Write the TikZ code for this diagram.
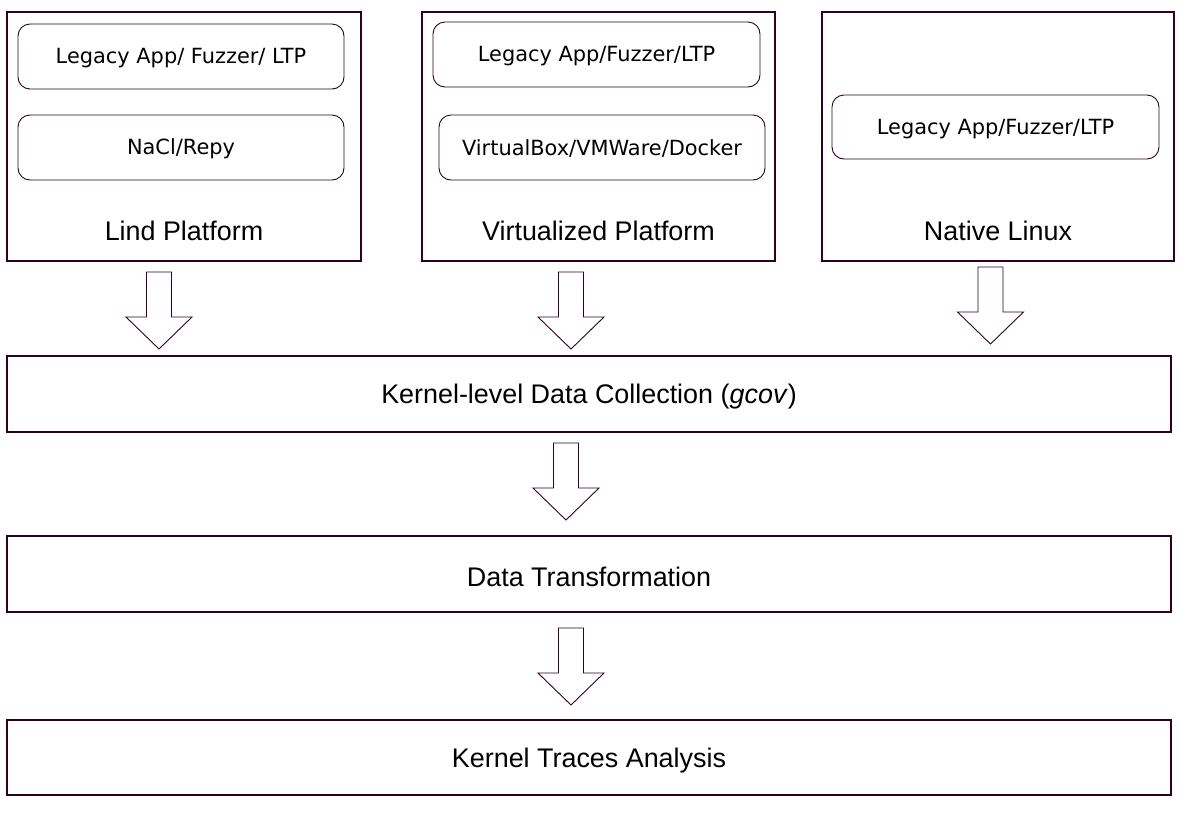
\documentclass[tikz,border=0pt]{standalone}
\usepackage{fontspec}
\setmainfont{Liberation Sans}
\newfontfamily\innerfont{DejaVu Sans}
\definecolor{edge}{HTML}{300020}
\begin{document}
\begin{tikzpicture}[x=1pt,y=-1pt,
  outerbox/.style={draw=edge,line width=1.1pt,rectangle,inner sep=0pt},
  innerbox/.style={draw=edge,line width=0.9pt,rounded corners=12pt},
  biglabel/.style={font=\fontsize{26.9}{30}\selectfont,text=black},
  smalllabel/.style={font=\innerfont\fontsize{20.9}{24}\selectfont,text=black},
  blockarrow/.style={draw=edge,line width=0.9pt,fill=white,line join=miter}]
\useasboundingbox (0,0) rectangle (1187,820);
% platform boxes
\draw[outerbox] (7,12) rectangle (361,261);
\draw[outerbox] (422,12) rectangle (775,261);
\draw[outerbox] (822,12) rectangle (1174,261);
% inner rounded boxes
\draw[innerbox] (18,24) rectangle (344,89);
\draw[innerbox] (18,115) rectangle (344,180);
\draw[innerbox] (433,22) rectangle (760,87);
\draw[innerbox] (439,115) rectangle (765,180);
\draw[innerbox] (832,95) rectangle (1159,159);
\node[smalllabel] (l1) at (181,58) {Legacy App/ Fuzzer/ LTP};
\node[smalllabel] (n1) at (181,149) {NaCl/Repy};
\node[smalllabel] (l2) at (596.5,56) {Legacy App/Fuzzer/LTP};
\node[smalllabel] (v2) at (602,149) {VirtualBox/VMWare/Docker};
\node[smalllabel] (l3) at (995.5,129) {Legacy App/Fuzzer/LTP};
\node[biglabel] (p1) at (184,230.5) {Lind Platform};
\node[biglabel] (p2) at (598.5,230.5) {Virtualized Platform};
\node[biglabel] (p3) at (998,230.5) {Native Linux};
% wide boxes
\draw[outerbox] (7,356) rectangle (1171,432);
\draw[outerbox] (7,536) rectangle (1171,612);
\draw[outerbox] (7,720) rectangle (1171,795);
\node[biglabel] (kc) at (589,397) {Kernel-level Data Collection (\textit{gcov})};
\node[biglabel] (dt) at (589,576.5) {Data Transformation};
\node[biglabel] (ka) at (589,760.5) {Kernel Traces Analysis};
% block arrows
\newcommand\myblockarrow[2]{%
  \draw[blockarrow] (#1-12.5,#2) -- (#1+12.5,#2) -- (#1+12.5,#2+45) -- (#1+33,#2+45)
    -- (#1,#2+77) -- (#1-33,#2+45) -- (#1-12.5,#2+45) -- cycle;}
\myblockarrow{159}{272}
\myblockarrow{571}{272}
\myblockarrow{990.5}{267}
\myblockarrow{566}{443}
\myblockarrow{571}{628}
\end{tikzpicture}
\end{document}
